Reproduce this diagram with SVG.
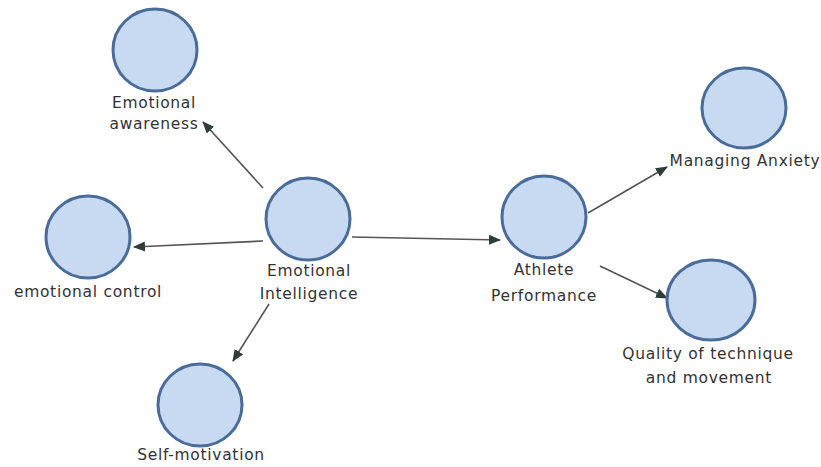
<svg xmlns="http://www.w3.org/2000/svg" width="821" height="467" viewBox="0 0 821 467">
  <defs>
    <marker id="arrow" viewBox="0 0 12 10" refX="11" refY="5" markerWidth="12" markerHeight="10" markerUnits="userSpaceOnUse" orient="auto">
      <path d="M0,0 L12,5 L0,10 z" fill="#2e3d3a"/>
    </marker>
    <style>
      .node ellipse { fill: #c8daf1; stroke: #4a6c99; stroke-width: 3; }
      .label { font-family: "DejaVu Sans", "Liberation Sans", sans-serif; font-size: 15.5px; letter-spacing: 0.7px; fill: #333; text-anchor: middle; }
      .edge { stroke: #555; stroke-width: 1.6; fill: none; marker-end: url(#arrow); }
    </style>
  </defs>
  <rect width="821" height="467" fill="#ffffff"/>

  <g id="connectors">
    <line class="edge" x1="263" y1="188" x2="203" y2="122"/>
    <line class="edge" x1="263" y1="241" x2="134" y2="247"/>
    <line class="edge" x1="269" y1="304" x2="233" y2="361"/>
    <line class="edge" x1="352" y1="237" x2="500" y2="240"/>
    <line class="edge" x1="588" y1="213" x2="667" y2="167"/>
    <line class="edge" x1="600" y1="266" x2="667" y2="298"/>
  </g>

  <g id="emotional-awareness" class="node">
    <ellipse cx="155" cy="50" rx="42" ry="41"/>
    <text class="label" x="154" y="108">Emotional</text>
    <text class="label" x="154" y="129">awareness</text>
  </g>

  <g id="emotional-control" class="node">
    <ellipse cx="88" cy="237" rx="42" ry="41"/>
    <text class="label" x="88" y="297">emotional control</text>
  </g>

  <g id="emotional-intelligence" class="node">
    <ellipse cx="308" cy="219" rx="42" ry="41"/>
    <text class="label" x="309" y="276">Emotional</text>
    <text class="label" x="309" y="299">Intelligence</text>
  </g>

  <g id="self-motivation" class="node">
    <ellipse cx="200" cy="405" rx="42" ry="41"/>
    <text class="label" x="201" y="460">Self-motivation</text>
  </g>

  <g id="athlete-performance" class="node">
    <ellipse cx="544" cy="217" rx="42" ry="41"/>
    <text class="label" x="544" y="275">Athlete</text>
    <text class="label" x="544" y="301">Performance</text>
  </g>

  <g id="managing-anxiety" class="node">
    <ellipse cx="744" cy="108" rx="42" ry="40"/>
    <text class="label" x="745" y="166">Managing Anxiety</text>
  </g>

  <g id="quality-of-technique" class="node">
    <ellipse cx="711" cy="300" rx="44" ry="40"/>
    <text class="label" x="708" y="359">Quality of technique</text>
    <text class="label" x="709" y="383">and movement</text>
  </g>
</svg>
